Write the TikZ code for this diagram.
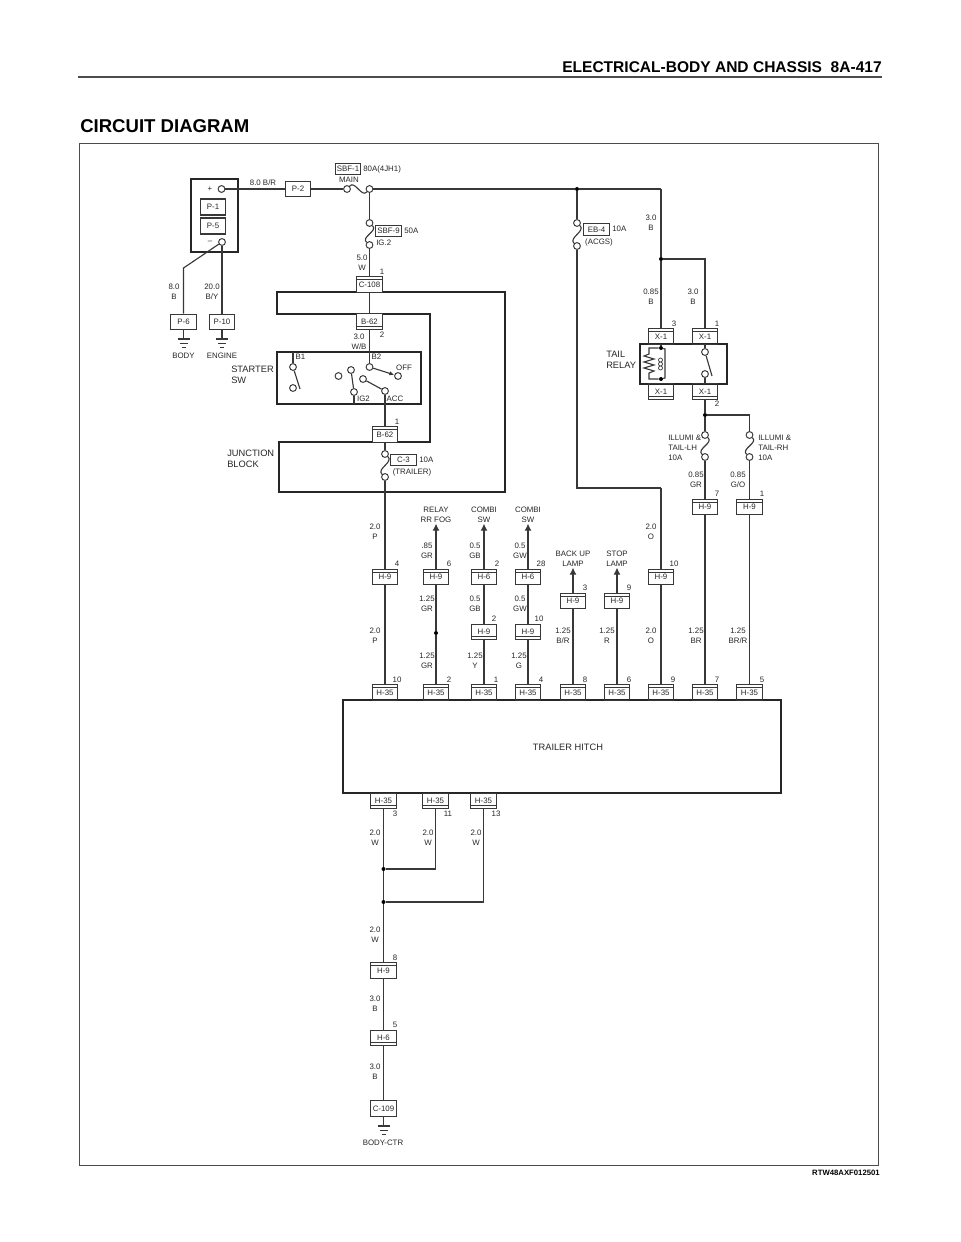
\documentclass[tikz,border=0pt]{standalone}
\usepackage{fontspec}
\setmainfont{Liberation Sans}
\usetikzlibrary{arrows.meta}

\definecolor{inkgray}{gray}{0.22}

\tikzset{
	wire/.style={draw=inkgray, line width=0.8pt},
	heavywire/.style={draw=inkgray, line width=1.5pt},
	tiptri/.style={-{Latex[length=5pt,width=5pt]}},
	tipsmall/.style={-{Latex[length=3.5pt,width=3pt]}},
	frameline/.style={draw=black!85, line width=1.1pt},
	textlabel/.style={inner sep=0pt, text=black!85, align=center, font=\fontsize{5.6}{7.1}\selectfont},
	biglabel/.style={inner sep=0pt, text=black!85, align=left, font=\fontsize{6.6}{7.9}\selectfont},
	leftlabel/.style={textlabel, align=left, anchor=west},
	connbox/.style={rectangle, draw=inkgray, line width=0.8pt, inner sep=0pt, minimum width=0.63cm, minimum height=0.39cm, text=black!85, font=\fontsize{5.6}{7}\selectfont},
	conntop/.style={connbox, path picture={\draw[wire] ([yshift=-2.2pt]path picture bounding box.north west) -- ([yshift=-2.2pt]path picture bounding box.north east);}},
	connbot/.style={connbox, path picture={\draw[wire] ([yshift=2.2pt]path picture bounding box.south west) -- ([yshift=2.2pt]path picture bounding box.south east);}},
	tagbox/.style={connbox, minimum height=0.28cm},
	term/.style={circle, draw=inkgray, line width=0.7pt, inner sep=0pt, minimum size=0.17cm},
	joint/.style={circle, fill=black, inner sep=0pt, minimum size=0.1cm},
	groundbars/.pic={
		\draw[wire] (-6,0) -- (6,0);
		\draw[draw=inkgray, line width=0.5pt] (-4,4) -- (4,4);
		\draw[draw=inkgray, line width=0.5pt] (-2,8) -- (2,8);
	}
}

\begin{document}
\begin{tikzpicture}[x=0.025cm,y=-0.025cm]
		
		\useasboundingbox (0,0) rectangle (960,1242);
		
		% Page heading
		
		\node[anchor=east, inner sep=0pt, font=\fontsize{11.05}{12}\selectfont\bfseries] (pageTitle) at (882,67) {ELECTRICAL-BODY AND CHASSIS\ \ 8A-417};
		\node[anchor=west, inner sep=0pt, font=\fontsize{13.2}{14}\selectfont\bfseries] (sectionTitle) at (80,126) {CIRCUIT DIAGRAM};
		\coordinate (ruleLeft) at (78,77);
		\coordinate (ruleRight) at (882,77);
		\draw[draw=black!70, line width=1.4pt] (ruleLeft) -- (ruleRight);
		\node[rectangle, draw=black!70, line width=0.6pt, minimum width=19.95cm, minimum height=25.525cm] (pageFrame) at (479,654.5) {};
		\node[anchor=east, inner sep=0pt, font=\fontsize{5.5}{7}\selectfont\bfseries] (drawingCode) at (880,1173) {RTW48AXF012501};
		
		% Battery
		
		\node[rectangle, frameline, minimum width=1.175cm, minimum height=1.825cm] (batteryBox) at (214.5,215.5) {};
		\node[textlabel] (batPlus) at (210,189) {+};
		\node[textlabel] (batMinus) at (210,242) {--};
		\node[term] (termPlus) at (221.5,189) {};
		\node[term] (termMinus) at (222,242) {};
		\node[connbox, minimum height=0.4cm] (connP1) at (213,207) {P-1};
		\node[connbox, minimum height=0.4cm] (connP5) at (213,226) {P-5};
		\node[connbox] (connP2) at (298,189) {P-2};
		\node[connbox] (connP6) at (183.5,322) {P-6};
		\node[connbox] (connP10) at (222,322) {P-10};
		\coordinate (bendP6) at (183.5,268);
		\coordinate (gndBody) at (183.5,339);
		\coordinate (gndEngine) at (222,339);
		\pic at (gndBody) {groundbars};
		\pic at (gndEngine) {groundbars};
		\node[textlabel] (placeBody) at (183.5,356) {BODY};
		\node[textlabel] (placeEngine) at (222,356) {ENGINE};
		
		\draw[wire] (termPlus) -- (connP2);
		\draw[wire] (termMinus) -- (bendP6) -- (connP6);
		\draw[heavywire] (termMinus) -- (connP10);
		\draw[wire] (connP6) -- (gndBody);
		\draw[wire] (connP10) -- (gndEngine);
		
		\node[textlabel] (wire1) at (263,183) {8.0 B/R};
		\node[textlabel] (wire2) at (174,292) {8.0\\B};
		\node[textlabel] (wire3) at (212,292) {20.0\\B/Y};
		
		% Main fuses
		
		\node[term] (termMainA) at (347,189) {};
		\node[term] (termMainB) at (369.5,189) {};
		\node[tagbox] (tagMain) at (348,169) {SBF-1};
		\node[leftlabel] (ratingMain) at (363,169) {80A(4JH1)};
		\node[textlabel] (nameMain) at (349,180) {MAIN};
		\node[term] (termIgA) at (369.5,223) {};
		\node[term] (termIgB) at (369.5,245) {};
		\node[tagbox] (tagIg) at (388.5,231) {SBF-9};
		\node[leftlabel] (ratingIg) at (404,231) {50A};
		\node[leftlabel] (nameIg) at (376,243) {IG.2};
		\node[joint] (jointAcgs) at (577,189) {};
		\coordinate (cornerTop) at (661,189);
		
		\draw[wire] (connP2) -- (termMainA);
		\draw[wire] (termMainA) .. controls +(8,-9) and +(-8,9) .. (termMainB);
		\draw[wire] (termMainB) -- (jointAcgs) -- (cornerTop);
		\draw[wire] (termMainB) -- (termIgA);
		\draw[wire] (termIgA) .. controls +(9,8) and +(-9,-8) .. (termIgB);
		
		\node[textlabel] (wire4) at (362,263) {5.0\\W};
		\node[textlabel] (pin1) at (382,272) {1};
		
		% Junction block
		
		\draw[frameline] (277,292) -- (505,292) -- (505,492) -- (279,492) -- (279,442) -- (430,442) -- (430,314) -- (277,314) -- cycle;
		\node[leftlabel, biglabel] (labelBlock) at (227,459) {JUNCTION\\BLOCK};
		\node[conntop, fill=white] (connC108) at (369.5,284.5) {C-108};
		\node[connbot, fill=white] (connB62a) at (369.5,321.5) {B-62};
		\node[conntop, fill=white] (connB62b) at (385,434.5) {B-62};
		\node[textlabel] (pin2) at (382,335) {2};
		\node[textlabel] (pin3) at (397,422) {1};
		\node[textlabel] (wire5) at (359,341.5) {3.0\\W/B};
		
		\draw[wire] (termIgB) -- (connC108);
		\draw[wire] (connC108) -- (connB62a);
		
		% Starter switch
		
		\node[rectangle, frameline, minimum width=3.6cm, minimum height=1.3cm] (starterBox) at (349,378) {};
		\node[leftlabel, biglabel] (labelStarter) at (231,374.5) {STARTER\\SW};
		\node[textlabel] (contactB1) at (300.5,357) {B1};
		\node[textlabel] (contactB2) at (376.5,357) {B2};
		\node[textlabel] (contactOff) at (404,368) {OFF};
		\node[textlabel] (contactIg) at (363.5,399) {IG2};
		\node[textlabel] (contactAcc) at (395,399) {ACC};
		\node[term] (termB1a) at (293,367) {};
		\node[term] (termB1b) at (293,388) {};
		\node[term] (termB2) at (369.5,367) {};
		\node[term] (termOff) at (398,376) {};
		\node[term] (termFree) at (338.5,376) {};
		\node[term] (termIgTop) at (351,370) {};
		\node[term] (termIgLow) at (354,392) {};
		\node[term] (termAccTop) at (363,379) {};
		\node[term] (termAcc) at (385,391) {};
		\coordinate (swingB1) at (300,389);
		\coordinate (topB1) at (293,352);
		\coordinate (stubIg) at (354,404);
		
		\draw[wire] (topB1) -- (termB1a);
		\draw[wire] (termB1a) -- (swingB1);
		\draw[wire] (connB62a) -- (termB2);
		\draw[wire, tipsmall] (termB2) -- (termOff);
		\draw[wire] (termIgTop) -- (termIgLow);
		\draw[wire] (termIgLow) -- (stubIg);
		\draw[wire] (termAccTop) -- (termAcc);
		\draw[wire] (termAcc) -- (connB62b);
		
		% Trailer fuse
		
		\node[term] (termTrlA) at (385,454) {};
		\node[term] (termTrlB) at (385,477) {};
		\node[tagbox] (tagTrl) at (403.5,460) {C-3};
		\node[leftlabel] (ratingTrl) at (419,460) {10A};
		\node[textlabel] (nameTrl) at (412,472) {(TRAILER)};
		
		\draw[wire] (connB62b) -- (termTrlA);
		\draw[wire] (termTrlA) .. controls +(9,8) and +(-9,-8) .. (termTrlB);
		
		% Acgs fuse and tail relay
		
		\node[term] (termAcgsA) at (577,223) {};
		\node[term] (termAcgsB) at (577,246) {};
		\node[tagbox] (tagAcgs) at (596.5,229.5) {EB-4};
		\node[leftlabel] (ratingAcgs) at (612,229) {10A};
		\node[textlabel] (nameAcgs) at (599,242) {(ACGS)};
		\node[joint] (jointRelay) at (661,259) {};
		\coordinate (cornerAcgs) at (661,488);
		
		\node[rectangle, frameline, minimum width=2.175cm, minimum height=1cm] (relayBox) at (683.5,364) {};
		\node[leftlabel, biglabel] (labelRelay) at (606,359.5) {TAIL\\RELAY};
		\node[conntop] (connX1a) at (661,336.5) {X-1};
		\node[conntop] (connX1b) at (705,336.5) {X-1};
		\node[connbot] (connX1c) at (661,391.5) {X-1};
		\node[connbot] (connX1d) at (705,391.5) {X-1};
		\node[joint] (jointCoilA) at (661,348) {};
		\node[joint] (jointCoilB) at (661,379) {};
		\node[term] (termSwA) at (705,352) {};
		\node[term] (termSwB) at (705,374) {};
		\coordinate (swingRelay) at (712,376);
		
		\draw[wire] (jointAcgs) -- (termAcgsA);
		\draw[wire] (termAcgsA) .. controls +(9,8) and +(-9,-8) .. (termAcgsB);
		\draw[wire] (termAcgsB) |- (cornerAcgs);
		\draw[wire] (cornerTop) -- (jointRelay);
		\draw[wire] (jointRelay) -- (connX1a);
		\draw[wire] (jointRelay) -| (connX1b);
		\draw[wire] (connX1a) -- (jointCoilA);
		\draw[wire] (jointCoilA) -- (649,348) -- (649,354) -- (644,356) -- (654,359) -- (644,362) -- (654,365) -- (644,368) -- (654,371) -- (649,373) -- (649,379) -- (jointCoilB);
		\draw[wire] (jointCoilA) -- (665,349) -- (665,378) -- (jointCoilB);
		\draw[draw=inkgray, line width=0.5pt] (660.5,360) circle [radius=0.05cm] (660.5,364) circle [radius=0.05cm] (660.5,368) circle [radius=0.05cm];
		\draw[wire] (connX1b) -- (termSwA);
		\draw[wire] (termSwA) -- (swingRelay);
		\draw[wire] (termSwB) -- (connX1d);
		
		\node[textlabel] (wire6) at (651,222.5) {3.0\\B};
		\node[textlabel] (wire7) at (651,296.5) {0.85\\B};
		\node[textlabel] (wire8) at (693,296.5) {3.0\\B};
		\node[textlabel] (pin4) at (674,324) {3};
		\node[textlabel] (pin5) at (717,324) {1};
		\node[textlabel] (pin6) at (717,404) {2};
		
		% Illumination fuses
		
		\node[joint] (jointTail) at (705,415) {};
		\node[term] (termLhA) at (705,435) {};
		\node[term] (termLhB) at (705,457) {};
		\node[term] (termRhA) at (749.5,435) {};
		\node[term] (termRhB) at (749.5,457) {};
		\node[leftlabel] (nameLh) at (668,447.5) {ILLUMI \&\\TAIL-LH\\10A};
		\node[leftlabel] (nameRh) at (758,447.5) {ILLUMI \&\\TAIL-RH\\10A};
		\node[conntop] (connH9a) at (705,507) {H-9};
		\node[conntop] (connH9b) at (749.5,507) {H-9};
		
		\draw[wire] (connX1d) -- (jointTail);
		\draw[wire] (jointTail) -- (termLhA);
		\draw[wire] (jointTail) -| (termRhA);
		\draw[wire] (termLhA) .. controls +(9,8) and +(-9,-8) .. (termLhB);
		\draw[wire] (termRhA) .. controls +(9,8) and +(-9,-8) .. (termRhB);
		\draw[wire] (termLhB) -- (connH9a);
		\draw[wire] (termRhB) -- (connH9b);
		
		\node[textlabel] (wire9) at (696,479.5) {0.85\\GR};
		\node[textlabel] (wire10) at (738,479.5) {0.85\\G/O};
		\node[textlabel] (pin7) at (717,494) {7};
		\node[textlabel] (pin8) at (762,494) {1};
		
		% Trailer hitch
		
		\node[rectangle, frameline, minimum width=10.95cm, minimum height=2.325cm] (hitchBox) at (562,746.5) {};
		\node[biglabel] (labelHitch) at (568,747) {TRAILER HITCH};
		
		\node[conntop] (connH35a) at (385,692.5) {H-35};
		\node[conntop] (connH35b) at (436,692.5) {H-35};
		\node[conntop] (connH35c) at (484,692.5) {H-35};
		\node[conntop] (connH35d) at (528,692.5) {H-35};
		\node[conntop] (connH35e) at (573,692.5) {H-35};
		\node[conntop] (connH35f) at (617,692.5) {H-35};
		\node[conntop] (connH35g) at (661,692.5) {H-35};
		\node[conntop] (connH35h) at (705,692.5) {H-35};
		\node[conntop] (connH35i) at (749.5,692.5) {H-35};
		\node[textlabel] (pin9) at (397,680) {10};
		\node[textlabel] (pin10) at (449,680) {2};
		\node[textlabel] (pin11) at (496,680) {1};
		\node[textlabel] (pin12) at (541,680) {4};
		\node[textlabel] (pin13) at (585,680) {8};
		\node[textlabel] (pin14) at (629,680) {6};
		\node[textlabel] (pin15) at (673,680) {9};
		\node[textlabel] (pin16) at (717,680) {7};
		\node[textlabel] (pin17) at (762,680) {5};
		
		% Upper branches
		
		\node[conntop] (connH9c) at (385,577) {H-9};
		\node[conntop] (connH9d) at (436,577) {H-9};
		\node[conntop] (connH6a) at (484,577) {H-6};
		\node[conntop] (connH6b) at (528,577) {H-6};
		\node[conntop] (connH9e) at (661,577) {H-9};
		\node[connbot] (connH9f) at (484,632) {H-9};
		\node[connbot] (connH9g) at (528,632) {H-9};
		\node[conntop] (connH9h) at (573,601) {H-9};
		\node[conntop] (connH9i) at (617,601) {H-9};
		\node[joint] (jointFog) at (436,633) {};
		
		\node[textlabel, outer sep=1pt] (destFog) at (436,514.5) {RELAY\\RR FOG};
		\node[textlabel, outer sep=1pt] (destCombiA) at (484,514.5) {COMBI\\SW};
		\node[textlabel, outer sep=1pt] (destCombiB) at (528,514.5) {COMBI\\SW};
		\node[textlabel, outer sep=1pt] (destBack) at (573,558.5) {BACK UP\\LAMP};
		\node[textlabel, outer sep=1pt] (destStop) at (617,558.5) {STOP\\LAMP};
		
		\draw[wire] (termTrlB) -- (connH9c);
		\draw[wire] (connH9c) -- (connH35a);
		\draw[wire, tiptri] (connH9d) -- (destFog);
		\draw[wire] (connH9d) -- (jointFog);
		\draw[wire] (jointFog) -- (connH35b);
		\draw[wire, tiptri] (connH6a) -- (destCombiA);
		\draw[wire] (connH6a) -- (connH9f);
		\draw[wire] (connH9f) -- (connH35c);
		\draw[wire, tiptri] (connH6b) -- (destCombiB);
		\draw[wire] (connH6b) -- (connH9g);
		\draw[wire] (connH9g) -- (connH35d);
		\draw[wire, tiptri] (connH9h) -- (destBack);
		\draw[wire] (connH9h) -- (connH35e);
		\draw[wire, tiptri] (connH9i) -- (destStop);
		\draw[wire] (connH9i) -- (connH35f);
		\draw[wire] (cornerAcgs) -- (connH9e);
		\draw[wire] (connH9e) -- (connH35g);
		\draw[wire] (connH9a) -- (connH35h);
		\draw[wire] (connH9b) -- (connH35i);
		
		\node[textlabel] (wire11) at (375,531.5) {2.0\\P};
		\node[textlabel] (wire12) at (375,635.5) {2.0\\P};
		\node[textlabel] (wire13) at (427,550.5) {.85\\GR};
		\node[textlabel] (wire14) at (427,603.5) {1.25\\GR};
		\node[textlabel] (wire15) at (427,660.5) {1.25\\GR};
		\node[textlabel] (wire16) at (475,550.5) {0.5\\GB};
		\node[textlabel] (wire17) at (475,603.5) {0.5\\GB};
		\node[textlabel] (wire18) at (475,660.5) {1.25\\Y};
		\node[textlabel] (wire19) at (520,550.5) {0.5\\GW};
		\node[textlabel] (wire20) at (520,603.5) {0.5\\GW};
		\node[textlabel] (wire21) at (519,660.5) {1.25\\G};
		\node[textlabel] (wire22) at (563,635.5) {1.25\\B/R};
		\node[textlabel] (wire23) at (607,635.5) {1.25\\R};
		\node[textlabel] (wire24) at (651,531.5) {2.0\\O};
		\node[textlabel] (wire25) at (651,635.5) {2.0\\O};
		\node[textlabel] (wire26) at (696,635.5) {1.25\\BR};
		\node[textlabel] (wire27) at (738,635.5) {1.25\\BR/R};
		\node[textlabel] (pin18) at (397,564) {4};
		\node[textlabel] (pin19) at (449,564) {6};
		\node[textlabel] (pin20) at (497,564) {2};
		\node[textlabel] (pin21) at (541,564) {28};
		\node[textlabel] (pin22) at (674,564) {10};
		\node[textlabel] (pin23) at (494,619) {2};
		\node[textlabel] (pin24) at (539,619) {10};
		\node[textlabel] (pin25) at (585,588) {3};
		\node[textlabel] (pin26) at (629,588) {9};
		
		% Lower branches
		
		\node[connbot] (connH35j) at (383.5,801) {H-35};
		\node[connbot] (connH35k) at (435.5,801) {H-35};
		\node[connbot] (connH35l) at (483.5,801) {H-35};
		\node[joint] (jointLowA) at (383.5,869) {};
		\node[joint] (jointLowB) at (383.5,902) {};
		\node[conntop] (connH9j) at (383.5,970.5) {H-9};
		\node[connbot] (connH6c) at (383.5,1038) {H-6};
		\node[connbox, minimum height=0.42cm] (connC109) at (383.5,1108.5) {C-109};
		\coordinate (gndCtr) at (383.5,1126);
		\pic at (gndCtr) {groundbars};
		\node[textlabel] (placeCtr) at (383,1143) {BODY-CTR};
		
		\draw[wire] (connH35j) -- (jointLowA);
		\draw[wire] (connH35k) |- (jointLowA);
		\draw[wire] (jointLowA) -- (jointLowB);
		\draw[wire] (connH35l) |- (jointLowB);
		\draw[wire] (jointLowB) -- (connH9j);
		\draw[wire] (connH9j) -- (connH6c);
		\draw[wire] (connH6c) -- (connC109);
		\draw[wire] (connC109) -- (gndCtr);
		
		\node[textlabel] (wire28) at (375,837.5) {2.0\\W};
		\node[textlabel] (wire29) at (428,837.5) {2.0\\W};
		\node[textlabel] (wire30) at (476,837.5) {2.0\\W};
		\node[textlabel] (wire31) at (375,934.5) {2.0\\W};
		\node[textlabel] (wire32) at (375,1004) {3.0\\B};
		\node[textlabel] (wire33) at (375,1072) {3.0\\B};
		\node[textlabel] (pin27) at (395,814) {3};
		\node[textlabel] (pin28) at (448,814) {11};
		\node[textlabel] (pin29) at (496,814) {13};
		\node[textlabel] (pin30) at (395,958) {8};
		\node[textlabel] (pin31) at (395,1025) {5};
		
	\end{tikzpicture}
\end{document}
